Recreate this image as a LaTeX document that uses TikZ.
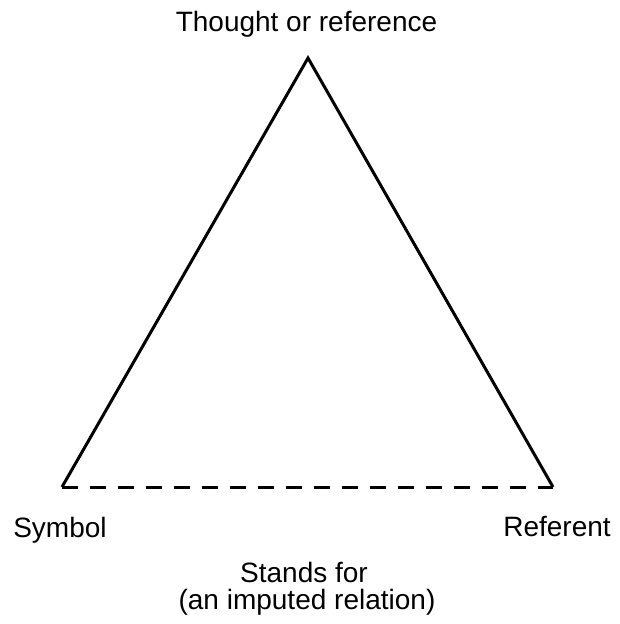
\documentclass[tikz,border=0pt]{standalone}
\usepackage{fontspec}
\setmainfont{Liberation Sans}
\begin{document}
\begin{tikzpicture}[x=1pt,y=-1pt,
  side/.style={line width=3pt,line join=miter},
  imputed/.style={line width=3pt,dash pattern=on 16pt off 12pt},
  lbl/.style={font=\fontsize{28}{32}\selectfont,inner sep=0pt,anchor=base}]
  \useasboundingbox (0,0) rectangle (619,624);
  % corners of the triangle
  \coordinate (thought) at (308,58);
  \coordinate (symbol) at (62,487);
  \coordinate (referent) at (553,487);
  % causal relations (solid) and the imputed one (dashed)
  \draw[side] (symbol) -- (thought) -- (referent);
  \draw[imputed] (symbol) -- (referent);
  % labels
  \node[lbl] (tl) at (306.5,31) {Thought or reference};
  \node[lbl] (sl) at (60,537) {Symbol};
  \node[lbl] (rl) at (557,536) {Referent};
  \node[lbl] (st) at (304,582) {Stands for};
  \node[lbl] (ir) at (307,609) {(an imputed relation)};
\end{tikzpicture}
\end{document}
